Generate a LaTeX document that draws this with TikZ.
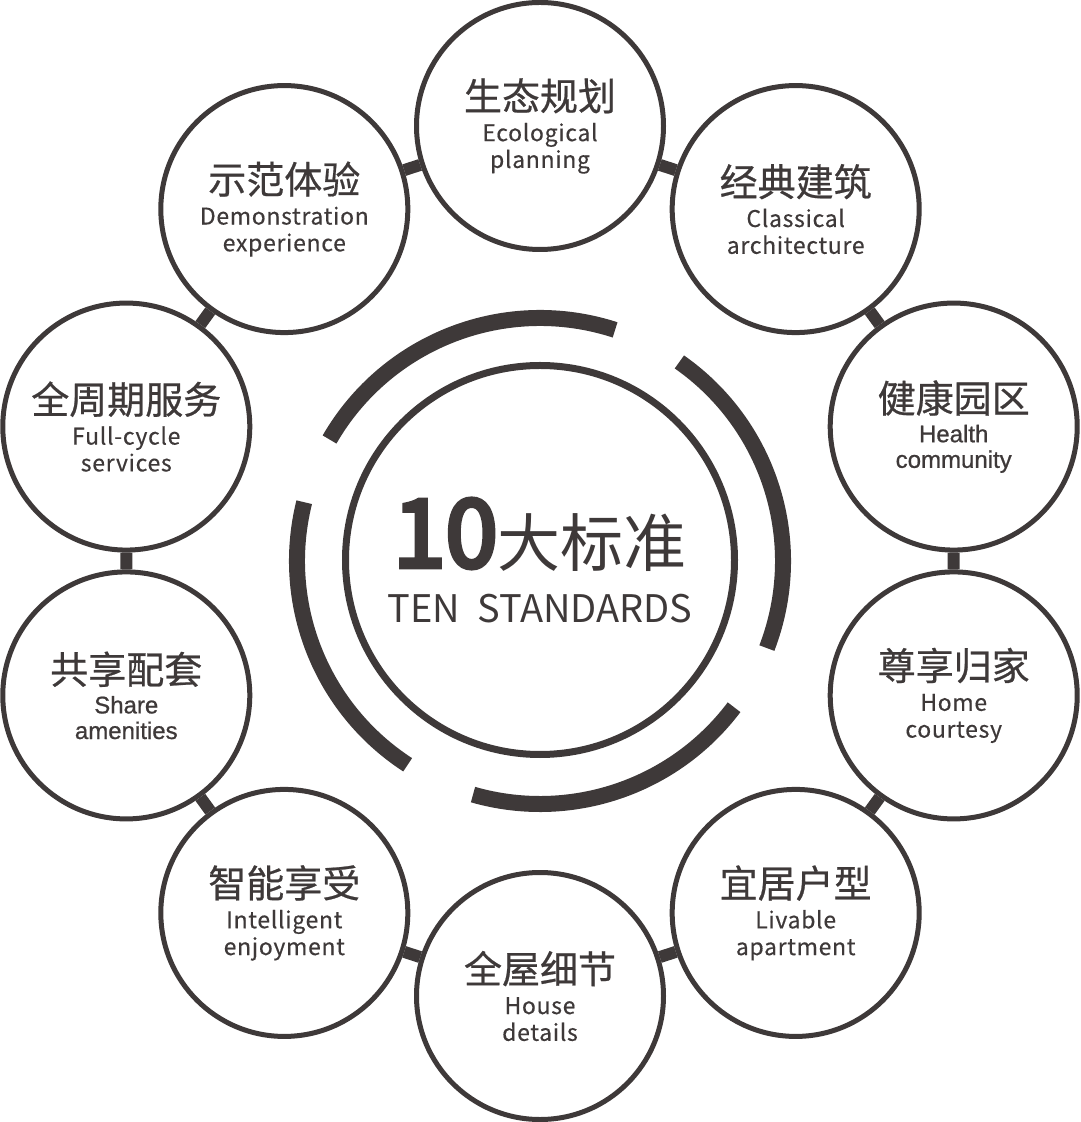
\documentclass[tikz,border=0pt]{standalone}
\usepackage{fontspec}
\newfontfamily\cnfont{Noto Sans CJK SC}[FakeBold=0.6]
\newfontfamily\cnlight{Noto Sans CJK SC}
\newfontfamily\numfont{Noto Sans CJK SC}[FakeBold=5]
\newfontfamily\enfont{Noto Sans CJK SC}[FakeBold=0.4,LetterSpace=3]
\newfontfamily\arialfont{Liberation Sans}[FakeBold=0.8]
\usetikzlibrary{positioning}
\definecolor{ink}{RGB}{62,57,57}
\newcommand{\cn}[1]{{\cnfont\fontsize{19pt}{20pt}\selectfont #1}}
\tikzset{
  ring/.style={circle,draw=ink,line width=2.5pt,minimum size=123.5pt,inner sep=0pt,
    align=center,text=ink,font=\enfont\fontsize{11.5pt}{13.4pt}\selectfont},
  ringarial/.style={ring,font=\arialfont\fontsize{12pt}{12.8pt}\selectfont},
  link/.style={draw=ink,line width=6pt},
  arcline/.style={draw=ink,line width=8pt},
}

\begin{document}
\begin{tikzpicture}[x=0.5pt,y=0.5pt]
\useasboundingbox (-540,-561) rectangle (540,561);
% ten standards round the ring
\node[ring] (S1) at (90:435) {\cn{生态规划}\\[2pt]Ecological\\planning};
\node[ring] (S2) at (54:435) {\cn{经典建筑}\\[2pt]Classical\\architecture};
\node[ringarial] (S3) at (18:435) {\cn{健康园区}\\[2pt]Health\\community};
\node[ring] (S4) at (-18:435) {\cn{尊享归家}\\[2pt]Home\\courtesy};
\node[ring] (S5) at (-54:435) {\cn{宜居户型}\\[2pt]Livable\\apartment};
\node[ring] (S6) at (-90:435) {\cn{全屋细节}\\[2pt]House\\details};
\node[ring] (S7) at (-126:435) {\cn{智能享受}\\[2pt]Intelligent\\enjoyment};
\node[ringarial] (S8) at (-162:435) {\cn{共享配套}\\[2pt]Share\\amenities};
\node[ring] (S9) at (162:435) {\cn{全周期服务}\\[2pt]Full-cycle\\services};
\node[ring] (S10) at (126:435) {\cn{示范体验}\\[2pt]Demonstration\\experience};
\draw[link] (S1)--(S2)--(S3)--(S4)--(S5)--(S6)--(S7)--(S8)--(S9)--(S10)--(S1);
% centre
\node[circle,draw=ink,line width=3.5pt,minimum size=194.5pt] (core) at (0,1) {};
\draw[arcline] (72:121.5pt) arc[start angle=72,end angle=150,radius=121.5pt];
\draw[arcline] (-21:121.5pt) arc[start angle=-21,end angle=55,radius=121.5pt];
\draw[arcline] (-106:121.5pt) arc[start angle=-106,end angle=-37,radius=121.5pt];
\draw[arcline] (166:121.5pt) arc[start angle=166,end angle=237,radius=121.5pt];
\node[anchor=base,inner sep=0pt,text=ink,font=\cnlight] (title) at (0,-6)
  {{\numfont\fontsize{47pt}{48pt}\selectfont 10}{\fontsize{31.5pt}{32pt}\selectfont 大标准}};
\node[anchor=base,inner sep=0pt,text=ink,font=\cnlight\fontsize{19pt}{20pt}\selectfont] (subtitle) at (0,-62)
  {TEN\ \ STANDARDS};
\end{tikzpicture}
\end{document}
